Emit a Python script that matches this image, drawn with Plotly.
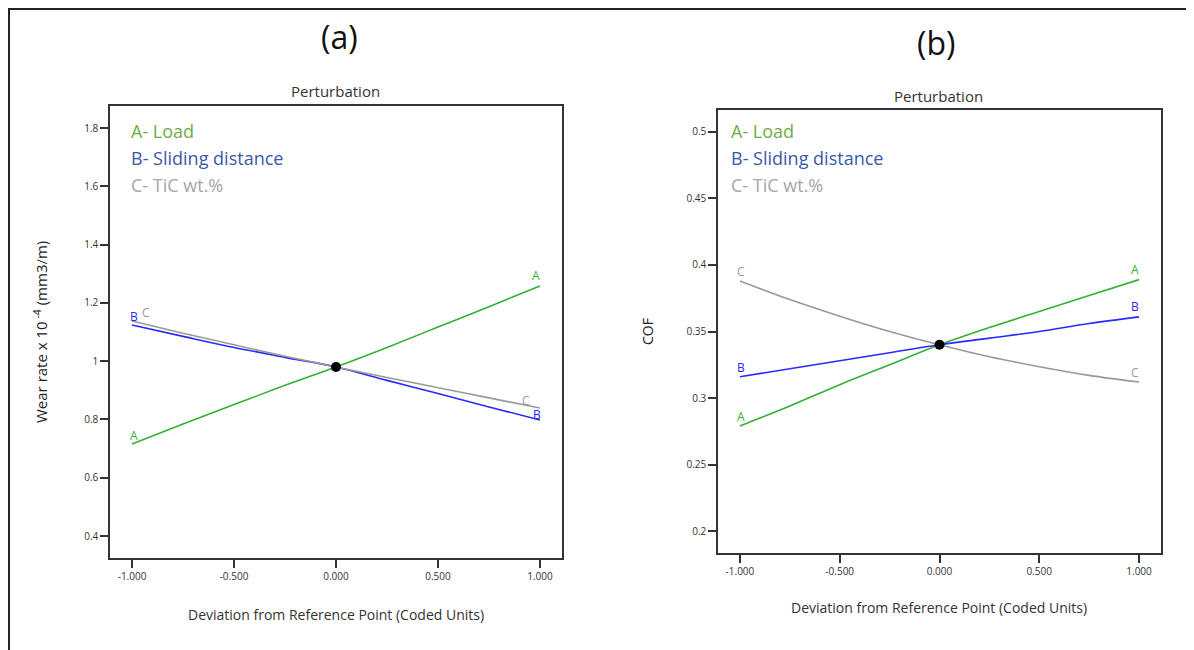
import plotly.graph_objects as go

# ---- data ----
x_coded = [-1.0, -0.75, -0.5, -0.25, 0.0, 0.25, 0.5, 0.75, 1.0]

# (a) Wear rate x 10^-4 (mm3/m)
wear_A = [0.716, 0.784, 0.851, 0.917, 0.980, 1.047, 1.117, 1.187, 1.258]
wear_B = [1.124, 1.085, 1.047, 1.013, 0.980, 0.934, 0.889, 0.843, 0.798]
wear_C = [1.138, 1.096, 1.056, 1.017, 0.980, 0.944, 0.909, 0.874, 0.839]
wear_ref = 0.980

# (b) COF
cof_A = [0.279, 0.294, 0.310, 0.325, 0.340, 0.353, 0.365, 0.377, 0.389]
cof_B = [0.316, 0.322, 0.328, 0.334, 0.340, 0.345, 0.350, 0.356, 0.361]
cof_C = [0.388, 0.374, 0.3615, 0.350, 0.340, 0.331, 0.3235, 0.317, 0.312]
cof_ref = 0.340

x_tickvals = [-1.0, -0.5, 0.0, 0.5, 1.0]
x_ticktext = ["-1.000", "-0.500", "0.000", "0.500", "1.000"]
wear_tickvals = [0.4, 0.6, 0.8, 1.0, 1.2, 1.4, 1.6, 1.8]
wear_ticktext = ["0.4", "0.6", "0.8", "1", "1.2", "1.4", "1.6", "1.8"]
cof_tickvals = [0.2, 0.25, 0.3, 0.35, 0.4, 0.45, 0.5]
cof_ticktext = ["0.2", "0.25", "0.3", "0.35", "0.4", "0.45", "0.5"]

legend_labels = ["A- Load", "B- Sliding distance", "C- TiC wt.%"]

# ---- styles ----
OFF = 8  # page body margin
W, H = 1186, 642
FONT = "Open Sans"
LINE_A, LINE_B, LINE_C = "#35b035", "#2a2aff", "#999999"
TXT_A, TXT_B, TXT_C = "#70ad47", "#3a5aa8", "#a6a6a6"
AX = "#333333"

def px(x):
    return (x - OFF) / W

def py(y):
    return 1 - (y - OFF) / H

fig = go.Figure()

series_a = [(wear_A, LINE_A), (wear_B, LINE_B), (wear_C, LINE_C)]
series_b = [(cof_A, LINE_A), (cof_B, LINE_B), (cof_C, LINE_C)]

for ys, c in series_a:
    fig.add_trace(go.Scatter(x=x_coded, y=ys, mode="lines", line=dict(color=c, width=1.6, shape="spline"),
                             xaxis="x", yaxis="y", showlegend=False))
fig.add_trace(go.Scatter(x=[0.0], y=[wear_ref], mode="markers", marker=dict(color="black", size=10),
                         xaxis="x", yaxis="y", showlegend=False))
for ys, c in series_b:
    fig.add_trace(go.Scatter(x=x_coded, y=ys, mode="lines", line=dict(color=c, width=1.6, shape="spline"),
                             xaxis="x2", yaxis="y2", showlegend=False))
fig.add_trace(go.Scatter(x=[0.0], y=[cof_ref], mode="markers", marker=dict(color="black", size=10),
                         xaxis="x2", yaxis="y2", showlegend=False))

axis_common = dict(showline=True, linecolor=AX, linewidth=1.5, mirror=True, ticks="outside",
                   ticklen=8, tickwidth=1.5, tickcolor=AX, showgrid=False, zeroline=False,
                   tickfont=dict(family=FONT, size=10, color=AX))

fig.update_layout(
    width=W, height=H,
    margin=dict(l=0, r=0, t=0, b=0),
    paper_bgcolor="white", plot_bgcolor="white",
    xaxis=dict(domain=[px(110), px(562)], range=[-1.108, 1.108], anchor="y",
               tickvals=x_tickvals, ticktext=x_ticktext, **axis_common),
    yaxis=dict(domain=[py(558), py(106)], range=[0.3245, 1.8755], anchor="x",
               tickvals=wear_tickvals, ticktext=wear_ticktext, **axis_common),
    xaxis2=dict(domain=[px(718), px(1161)], range=[-1.11, 1.11], anchor="y2",
                tickvals=x_tickvals, ticktext=x_ticktext, **axis_common),
    yaxis2=dict(domain=[py(553), py(110)], range=[0.1835, 0.5165], anchor="x2",
                tickvals=cof_tickvals, ticktext=cof_ticktext, **axis_common),
)

ann = []
def text(x, y, s, size, color=AX, angle=0, xanchor="center"):
    ann.append(dict(x=px(x), y=py(y), xref="paper", yref="paper", text=s, showarrow=False,
                    font=dict(family=FONT, size=size, color=color), textangle=angle,
                    xanchor=xanchor, yanchor="middle"))

# panel titles
text(340, 37, "(a)", 32, "#111111")
text(936, 42, "(b)", 32, "#111111")
text(335, 91, "Perturbation", 15)
text(938, 96, "Perturbation", 15)
# axis titles
text(41, 332, "Wear rate x 10<sup> -4</sup> (mm3/m)", 15, "#222222", angle=-90)
text(648, 332, "COF", 14, "#222222", angle=-90)
text(336, 614, "Deviation from Reference Point (Coded Units)", 14)
text(939, 607, "Deviation from Reference Point (Coded Units)", 14)
# legends
for (lx, ly0) in [(129, 131), (729, 131)]:
    for i, (lab_, c) in enumerate(zip(legend_labels, [TXT_A, TXT_B, TXT_C])):
        text(lx, ly0 + 27 * i, lab_, 18, c, xanchor="left")

fig.update_layout(annotations=ann)

# end labels on lines (data coordinates)
def lab(xr, yr, x, y, s, c, xs=0, ys=8):
    fig.add_annotation(x=x, y=y, xref=xr, yref=yr, text=s, showarrow=False, xshift=xs, yshift=ys,
                       font=dict(family=FONT, size=12, color=c))

lab("x", "y", x_coded[0], wear_A[0], "A", LINE_A, 2, 8)
lab("x", "y", x_coded[-1], wear_A[-1], "A", LINE_A, -4, 10)
lab("x", "y", x_coded[0], wear_B[0], "B", LINE_B, 2, 9)
lab("x", "y", x_coded[-1], wear_B[-1], "B", LINE_B, -3, 6)
lab("x", "y", x_coded[0], wear_C[0], "C", LINE_C, 14, 8)
lab("x", "y", x_coded[-1], wear_C[-1], "C", LINE_C, -14, 8)

lab("x2", "y2", x_coded[0], cof_A[0], "A", LINE_A, 1, 9)
lab("x2", "y2", x_coded[-1], cof_A[-1], "A", LINE_A, -4, 10)
lab("x2", "y2", x_coded[0], cof_B[0], "B", LINE_B, 1, 9)
lab("x2", "y2", x_coded[-1], cof_B[-1], "B", LINE_B, -4, 10)
lab("x2", "y2", x_coded[0], cof_C[0], "C", LINE_C, 1, 9)
lab("x2", "y2", x_coded[-1], cof_C[-1], "C", LINE_C, -4, 10)

# outer frame
fig.add_shape(type="rect", xref="paper", yref="paper", x0=px(9), y0=py(670), x1=px(1190), y1=py(9),
              line=dict(color="#222222", width=2))

fig.write_html("out.html")
